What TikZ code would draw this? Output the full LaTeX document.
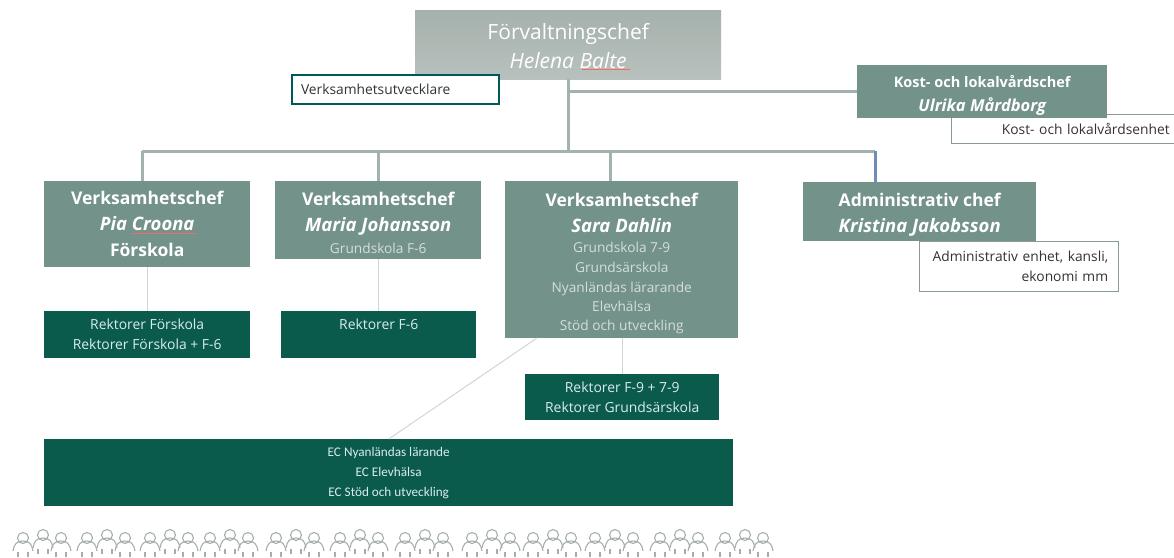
\documentclass[tikz,border=0pt]{standalone}
\usepackage{fontspec}
\setmainfont{Open Sans}
\newfontfamily\ecfont{Carlito}
\definecolor{chefgreen}{HTML}{73928A}
\definecolor{darkgreen}{HTML}{0B5B4D}
\definecolor{linegray}{HTML}{A3B2B0}
\definecolor{thingray}{HTML}{CFD6D3}
\definecolor{usergray}{HTML}{A6AEAB}
\definecolor{subtext}{HTML}{D5DEDA}
\definecolor{topdark}{HTML}{A5B1AC}
\definecolor{toplight}{HTML}{B8C1BD}
\definecolor{enhetline}{HTML}{8A9A96}
\definecolor{bluedrop}{HTML}{6C8DB8}
\tikzset{
	chef/.style={fill=chefgreen,text=white,align=center,anchor=north west,inner sep=0pt,font=\fontsize{17.5}{26}\selectfont\bfseries},
	rektor/.style={fill=darkgreen,text=white!85!teal,align=center,anchor=north west,inner sep=0pt,font=\fontsize{13.9}{20}\selectfont},
	enhet/.style={draw=#1,line width=1.3pt,fill=white,text=black!80,anchor=north west,inner sep=0pt,font=\fontsize{13.8}{20}\selectfont},
	bus/.style={draw=linegray,line width=3pt},
	thin line/.style={draw=thingray,line width=1pt},
	spell/.style={draw=red!60!white,line width=0.8pt},
	person/.pic={
		\draw [usergray,line width=1.1pt] (0,-6) circle [radius=5.5];
		\draw [usergray,line width=1.1pt] (-10,7) .. controls (-9,0) and (-6,-3) .. (0,-3) .. controls (6,-3) and (9,0) .. (10,7);
		\draw [usergray,line width=1.1pt] (-5,8) -- (-5,13) (5,8) -- (5,13);
	}
}
\newcommand{\sub}[1]{{\fontsize{13.7}{20}\mdseries\selectfont\color{subtext}#1}}
\newcommand{\name}[1]{{\fontsize{18.5}{26}\selectfont\itshape#1}}
\newcommand{\nudge}[1]{\rule{0pt}{#1pt}}
\begin{document}
\begin{tikzpicture}[x=1pt,y=-1pt]
	\useasboundingbox (0,0) rectangle (1174,557);

	% bus points
	\coordinate (busleft) at (142,151);
	\coordinate (busright) at (875,151);
	\coordinate (drop2) at (378,151);
	\coordinate (drop3) at (610,151);

	% top
	\node [chef,top color=topdark,bottom color=toplight,fill=none,minimum width=306pt,minimum height=69pt,font=\fontsize{21}{29}\selectfont] (forvaltning) at (415,10) {\nudge{19}Förvaltningschef\\\textit{Helena Balte}};
	\node [enhet=teal!70!black,line width=2pt,minimum width=207pt,minimum height=29pt,text width=189pt,align=left] (utvecklare) at (291,74) {Verksamhetsutvecklare};
	\node [enhet=enhetline,minimum width=223pt,minimum height=29pt,text width=213pt,align=right] (kostenhet) at (951,114) {Kost- och lokalvårdsenhet};
	\node [chef,minimum width=250pt,minimum height=53pt,font=\fontsize{14.5}{24}\selectfont\bfseries] (kost) at (857,65) {\nudge{20}Kost- och lokalvårdschef\\{\fontsize{16.5}{24}\selectfont\itshape Ulrika Mårdborg}};

	% row of chefs
	\node [chef,minimum width=206pt,minimum height=86pt] (chef1) at (44,181) {Verksamhetschef\\\name{Pia Croona}\\Förskola};
	\node [chef,minimum width=206pt,minimum height=78pt] (chef2) at (275,181) {\nudge{19}Verksamhetschef\\\name{Maria Johansson}\\[-4pt]\sub{Grundskola F-6}};
	\node [chef,minimum width=233pt,minimum height=157pt] (chef3) at (505,181) {\nudge{20}Verksamhetschef\\\name{Sara Dahlin}\\[-6pt]\sub{Grundskola 7-9}\\[-6pt]\sub{Grundsärskola}\\[-6pt]\sub{Nyanländas lärarande}\\[-7pt]\sub{Elevhälsa}\\[-7pt]\sub{Stöd och utveckling}};
	\node [chef,minimum width=233pt,minimum height=59pt] (admin) at (803,182) {\nudge{20}Administrativ chef\\\name{Kristina Jakobsson}};
	\node [enhet=enhetline,minimum width=199pt,minimum height=50pt,text width=178pt,align=right] (adminenhet) at (919,241) {Administrativ enhet, kansli,\\ekonomi mm};

	% rektorer
	\node [rektor,minimum width=206pt,minimum height=47pt] (rektor1) at (44,311) {Rektorer Förskola\\Rektorer Förskola + F-6};
	\node [rektor,minimum width=195pt,minimum height=47pt,text depth=20pt] (rektor2) at (281,311) {Rektorer F-6};
	\node [rektor,minimum width=194pt,minimum height=46pt] (rektor3) at (525,374) {Rektorer F-9 + 7-9\\Rektorer Grundsärskola};
	\node [rektor,minimum width=689pt,minimum height=67pt,font=\fontsize{13.2}{20}\selectfont\ecfont] (ec) at (44,439) {EC Nyanländas lärande\\EC Elevhälsa\\EC Stöd och utveckling};

	% lines
	\draw [bus] (forvaltning.south) -- (forvaltning.south |- busleft);
	\draw [bus] (forvaltning.south |- kost.west) -- (kost.west);
	\draw [bus] (busleft) -- (busright);
	\draw [bus] (busleft) -- (busleft |- chef1.north);
	\draw [bus] (drop2) -- (drop2 |- chef2.north);
	\draw [bus] (drop3) -- (drop3 |- chef3.north);
	\draw [bus,draw=bluedrop] (busright) -- (busright |- admin.north);
	\draw [thin line] (chef1.south) -- (rektor1.north);
	\draw [thin line] (chef2.south -| rektor2.north) -- (rektor2.north);
	\draw [thin line] (rektor3.north |- chef3.south) -- (rektor3.north);
	\draw [thin line] (537,338) -- (ec.north);

	% spelling marks
	\draw [spell] (582,69) -- (630,69);
	\draw [spell] (133,233) -- (196,233);

	% people
	\foreach \x in {13,77,140,200,266,330,395,462,523,585,650,715} {
		\pic at (\x+10,544) {person};
		\pic at (\x+30,541) {person};
		\pic at (\x+48,544) {person};
	}

\end{tikzpicture}
\end{document}
